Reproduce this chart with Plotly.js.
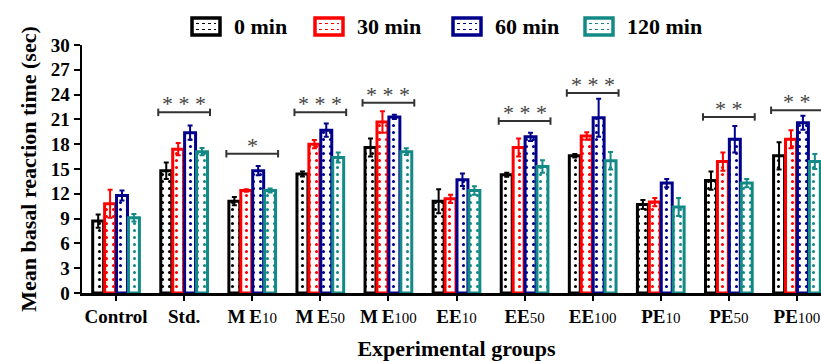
<!DOCTYPE html>
<html>
<head>
<meta charset="utf-8">
<script src="https://cdn.plot.ly/plotly-3.0.1.min.js"></script>
<style>
html,body{margin:0;padding:0;background:#fff;overflow:hidden;}
#chart{width:845px;height:361px;}
</style>
</head>
<body>
<div id="chart"></div>
<script>
// ---- data ----
const groups = ['Control','Std.','ME10','ME50','ME100','EE10','EE50','EE100','PE10','PE50','PE100'];
const seriesNames = ['0 min','30 min','60 min','120 min'];
const min0   = [8.7, 14.8, 11.1, 14.4, 17.6, 11.1, 14.3, 16.6, 10.7, 13.6, 16.6];
const err0   = [0.8, 1.0, 0.5, 0.3, 1.1, 1.45, 0.25, 0.2, 0.55, 1.1, 1.65];
const min30  = [10.8, 17.4, 12.4, 18.0, 20.7, 11.4, 17.6, 19.0, 11.0, 15.9, 18.6];
const err30  = [1.7, 0.75, 0.15, 0.5, 1.3, 0.5, 1.1, 0.45, 0.5, 1.1, 1.1];
const min60  = [11.8, 19.4, 14.8, 19.7, 21.3, 13.7, 18.9, 21.2, 13.3, 18.6, 20.6];
const err60  = [0.6, 0.85, 0.55, 0.8, 0.25, 0.75, 0.5, 2.3, 0.5, 1.6, 0.85];
const min120 = [9.1, 17.1, 12.4, 16.4, 17.1, 12.4, 15.3, 16.0, 10.4, 13.3, 15.9];
const err120 = [0.45, 0.45, 0.25, 0.6, 0.4, 0.5, 0.75, 1.05, 1.1, 0.5, 0.9];
const yTicks = [0,3,6,9,12,15,18,21,24,27,30];
const sigGroups = ['Std.','ME10','ME50','ME100','EE50','EE100','PE50','PE100'];
const sigLevel  = [21.85, 16.85, 21.85, 23.0, 20.8, 24.2, 21.3, 22.1];
const sigStars  = ['* * *','*','* * *','* * *','* * *','* * *','* *','* *'];

// ---- styling ----
const colors = ['#000000','#ff0000','#00008b','#138a85'];
const values = [min0, min30, min60, min120];
const errors = [err0, err30, err60, err120];
const FONT = 'Liberation Serif';

function tickLabel(g){
  const m = g.match(/^([A-Z]+)(\d+)$/);
  if(!m) return g;
  let letters = m[1] === 'ME' ? 'M\u2009E' : m[1];
  return letters + '<span style="font-weight:normal;font-size:15px">' + m[2] + '</span>';
}

const traces = seriesNames.map((name,i)=>({
  type:'bar', name:name, x:groups, y:values[i],
  marker:{color:'#ffffff', line:{color:colors[i], width:3},
          pattern:{shape:'.', fgcolor:colors[i], bgcolor:'#ffffff', size:7, solidity:0.15}},
  error_y:{type:'data', array:errors[i], visible:true, color:colors[i], thickness:2, width:2.5},
  showlegend:false, hoverinfo:'skip'
}));

const shapes = [];
const annotations = [];
const halfW = 0.38, capH = 0.45;
sigGroups.forEach((g,k)=>{
  const xi = groups.indexOf(g), y = sigLevel[k];
  const ln = {color:'#333333', width:2};
  shapes.push({type:'line', xref:'x', yref:'y', x0:xi-halfW, x1:xi+halfW, y0:y, y1:y, line:ln});
  shapes.push({type:'line', xref:'x', yref:'y', x0:xi-halfW, x1:xi-halfW, y0:y-capH, y1:y+capH, line:ln});
  shapes.push({type:'line', xref:'x', yref:'y', x0:xi+halfW, x1:xi+halfW, y0:y-capH, y1:y+capH, line:ln});
  annotations.push({x:xi, y:y, xref:'x', yref:'y', text:sigStars[k], showarrow:false,
    yanchor:'bottom', yshift:-6, font:{family:FONT, size:22, color:'#444444'}});
});

// custom legend (pixel positions converted to paper coords)
const L = 82, W = 749, B = 293, H = 248;
const px = v => (v - L)/W, py = v => (B - v)/H;
const boxX = [192, 315, 453, 585];
seriesNames.forEach((name,i)=>{
  const x0 = boxX[i], x1 = x0 + 28, y0 = 18, y1 = 35;
  shapes.push({type:'rect', xref:'paper', yref:'paper', x0:px(x0), x1:px(x1), y0:py(y1), y1:py(y0),
    fillcolor:'#ffffff', line:{color:colors[i], width:3.5}});
  [23.5, 29.5].forEach(yy=>{
    shapes.push({type:'line', xref:'paper', yref:'paper', x0:px(x0+4), x1:px(x1-4), y0:py(yy), y1:py(yy),
      line:{color:colors[i], width:1.2, dash:'dot'}});
  });
  annotations.push({xref:'paper', yref:'paper', x:px(x1+12), y:py(26.5), xanchor:'left', yanchor:'middle',
    text:name, showarrow:false, font:{family:FONT, size:22, color:'#000', weight:'bold'}});
});

const layout = {
  width:845, height:361,
  margin:{l:82, r:14, t:45, b:68},
  paper_bgcolor:'#ffffff', plot_bgcolor:'#ffffff',
  barmode:'group', bargap:0.3, bargroupgap:0.08,
  font:{family:FONT, color:'#000'},
  xaxis:{
    type:'category', range:[-0.5, 10.5],
    tickmode:'array', tickvals:groups, ticktext:groups.map(tickLabel),
    ticks:'outside', ticklen:5, tickwidth:2, tickcolor:'#000',
    showline:true, linecolor:'#000', linewidth:2.5,
    showgrid:false, zeroline:false,
    tickfont:{family:FONT, size:19, color:'#000', weight:'bold'},
    title:{text:'Experimental groups', font:{family:FONT, size:22, color:'#000', weight:'bold'}, standoff:18}
  },
  yaxis:{
    range:[0,30], tickmode:'array', tickvals:yTicks, ticktext:yTicks.map(String),
    ticks:'outside', ticklen:6, tickwidth:2, tickcolor:'#000',
    showline:true, linecolor:'#000', linewidth:2.5,
    showgrid:false, zeroline:false,
    tickfont:{family:FONT, size:19, color:'#000', weight:'bold'},
    title:{text:'Mean basal reaction time (sec)', font:{family:FONT, size:22, color:'#000', weight:'bold'}, standoff:8}
  },
  shapes:shapes, annotations:annotations, showlegend:false
};

Plotly.newPlot('chart', traces, layout, {staticPlot:true, displayModeBar:false});
</script>
</body>
</html>
